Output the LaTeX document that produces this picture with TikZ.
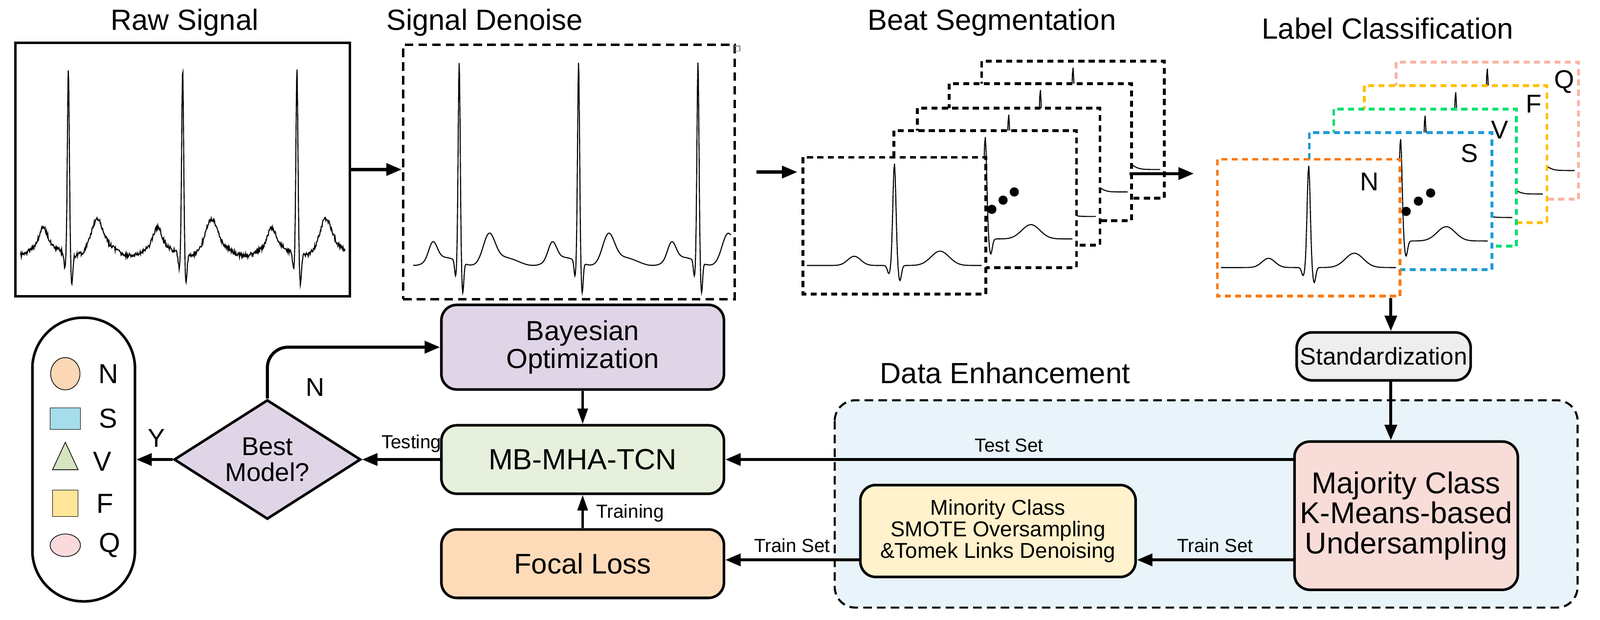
\documentclass[tikz,border=0pt]{standalone}
\usepackage{fontspec}
\setmainfont{Liberation Sans}
\usetikzlibrary{arrows.meta,shapes.geometric,positioning}

\definecolor{bayes}{HTML}{E0D5E7}
\definecolor{mbfill}{HTML}{E6F0DC}
\definecolor{focal}{HTML}{FDDBB9}
\definecolor{stdfill}{HTML}{EEEEEE}
\definecolor{majfill}{HTML}{F8DCD8}
\definecolor{minfill}{HTML}{FFF2CC}
\definecolor{enhfill}{HTML}{E8F4FA}
\definecolor{cN}{HTML}{FA7A12}
\definecolor{cS}{HTML}{1E9BD7}
\definecolor{cV}{HTML}{00E070}
\definecolor{cF}{HTML}{FFC000}
\definecolor{cQ}{HTML}{F8B5A5}
\definecolor{lgN}{HTML}{FAD7B5}
\definecolor{lgS}{HTML}{A6DDEA}
\definecolor{lgV}{HTML}{D6E4C0}
\definecolor{lgF}{HTML}{FFE699}
\definecolor{lgQ}{HTML}{FADADD}

\newcommand{\fs}[1]{\fontsize{#1}{#1}\selectfont}

\begin{document}
\begin{tikzpicture}[
        %one unit is one pixel of the reference, y goes down
        x=0.02087cm, y=-0.02087cm,
        declare function={
            ecg(\t)=0.09*exp(-min(((\t+0.22)/0.05)^2,9))
                   -0.08*exp(-min(((\t+0.03)/0.012)^2,9))
                   +exp(-min((\t/0.012)^2,9))
                   -0.15*exp(-min(((\t-0.03)/0.012)^2,9))
                   +0.14*exp(-min(((\t-0.25)/0.07)^2,9));
        },
        flow/.style={line width=1.8pt, -{Triangle[length=9pt,width=7pt]}},
        thin flow/.style={line width=1.2pt, -{Triangle[length=9pt,width=6pt]}},
        box/.style={draw, line width=1.5pt, rounded corners=9pt, align=center,
            inner sep=2pt},
        frame/.style={line width=1.6pt, dash pattern=on 3.5pt off 2.5pt, fill=white},
        signal/.style={line width=0.6pt},
        title/.style={font=\fs{17}},
        small label/.style={font=\fs{11}},
        every node/.style={color=black},
    ]
    \useasboundingbox (0,0) rectangle (1568,607);

    % titles
    \node[title] (rawtitle) at (181,22) {Raw Signal};
    \node[title] (dentitle) at (475,22) {Signal Denoise};
    \node[title] (segtitle) at (972,22) {Beat Segmentation};
    \node[title] (clstitle) at (1360,28) {Label Classification};

    % raw and denoised signal
    \node[draw, line width=1.5pt, minimum width=328*0.02087cm, minimum height=248*0.02087cm,
        inner sep=0] (raw) at (179,166) {};
    \node[draw, line width=1.5pt, dash pattern=on 5pt off 3pt, minimum width=325*0.02087cm,
        minimum height=249*0.02087cm, inner sep=0] (den) at (557.5,168.5) {};
    \draw[gray, line width=0.4pt] (720,45) rectangle (725,50);
    \begin{scope}[shift={(0,245)}, y={(0,-183)}]
        \draw[signal] plot[domain=20:338, samples=700]
            (\x, {ecg(mod(\x-67+56+224,112)/112-0.5)+0.012*rand
                +0.03*sin(6.43*(\x-30))});
    \end{scope}
    \begin{scope}[shift={(0,256)}, y={(0,-195)}]
        \draw[signal] plot[domain=405:716, samples=700]
            (\x, {ecg(mod(\x-450+58.5+234,117)/117-0.5)+0.02*sin(6.15*(\x-420))});
    \end{scope}

    % beat segmentation stack
    \foreach \fx/\fy in {962/60, 930/82, 899/106, 876/128, 787/154}{
        \path[frame, draw=black] (\fx,\fy) rectangle ++(179,134);
        \begin{scope}[shift={(\fx,\fy+106)}, x={(179,0)}, y={(0,-100)}]
            \draw[signal] plot[domain=0.02:0.98, samples=250] (\x, {ecg(\x-0.5)});
        \end{scope}
    }
    \foreach \dx/\dy in {972/205, 983/196, 994/188}
        \fill (\dx,\dy) circle (4.5);

    % label classification stack
    \foreach \fx/\fy/\fc/\lx/\ly/\lt in {1368/61/cQ/1533/80/Q, 1337/84/cF/1503/102/F,
            1307/107/cV/1470/127/V, 1283/130/cS/1440/150/S, 1193/156/cN/1342/178/N}{
        \path[frame, draw=\fc] (\fx,\fy) rectangle ++(179,134);
        \begin{scope}[shift={(\fx,\fy+106)}, x={(179,0)}, y={(0,-100)}]
            \draw[signal] plot[domain=0.02:0.98, samples=250] (\x, {ecg(\x-0.5)});
        \end{scope}
        \node[font=\fs{15}] at (\lx,\ly) {\lt};
    }
    \foreach \dx/\dy in {1378/207, 1390/197, 1402/189}
        \fill (\dx,\dy) circle (4.5);

    \coordinate (segout) at (1107,170);
    \coordinate (clsin) at (1170,170);
    \coordinate (clsout) at (1363,292);

    % data enhancement region
    \draw[line width=1.2pt, dash pattern=on 5pt off 3pt, rounded corners=12pt, fill=enhfill]
        (818,392) rectangle (1546,595);
    \node[font=\fs{17}] (enhtitle) at (985,365) {Data Enhancement};

    % process boxes
    \node[box, fill=stdfill, minimum width=3.38cm, minimum height=0.98cm, font=\fs{14}]
        (std) at (1356,349) {Standardization};
    \node[box, fill=majfill, minimum width=4.57cm, minimum height=3.03cm, font=\fs{17.5}]
        (maj) at (1378,505) {Majority Class\\K-Means-based\\Undersampling};
    \node[box, fill=minfill, minimum width=5.63cm, minimum height=1.88cm, font=\fs{12.5}]
        (mino) at (978,520) {Minority Class\\SMOTE Oversampling\\\&Tomek Links Denoising};
    \node[box, fill=mbfill, minimum width=5.78cm, minimum height=1.40cm, font=\fs{17}]
        (mb) at (571,450) {MB-MHA-TCN};
    \node[box, fill=bayes, minimum width=5.78cm, minimum height=1.73cm, font=\fs{16}]
        (bayes) at (571,340) {Bayesian\\Optimization};
    \node[box, fill=focal, minimum width=5.78cm, minimum height=1.40cm, font=\fs{16.5}]
        (focal) at (571,552) {Focal Loss};
    \node[draw, fill=bayes, line width=1.5pt, shape=diamond, aspect=1.56, inner sep=0pt,
        minimum width=3.82cm, minimum height=2.44cm, align=center, font=\fs{15}]
        (best) at (262,450) {Best\\Model?};

    % legend
    \node[draw, line width=1.5pt, rounded corners=1.04cm, minimum width=2.1cm,
        minimum height=5.8cm] (legend) at (82,450) {};
    \node[draw, fill=lgN, ellipse, minimum width=0.6cm, minimum height=0.66cm, inner sep=0]
        (lgn) at (64,366) {};
    \node[draw, fill=lgS, minimum width=0.62cm, minimum height=0.44cm, inner sep=0]
        (lgs) at (64,410) {};
    \node[draw, fill=lgV, isosceles triangle, shape border rotate=90, isosceles triangle apex angle=50,
        minimum width=0.52cm, minimum height=0.56cm, inner sep=0] (lgv) at (64,452) {};
    \node[draw, fill=lgF, minimum width=0.52cm, minimum height=0.54cm, inner sep=0]
        (lgf) at (64,493) {};
    \node[draw, fill=lgQ, ellipse, minimum width=0.62cm, minimum height=0.46cm, inner sep=0]
        (lgq) at (64,534) {};
    \foreach \nm/\lt in {lgn/N, lgs/S, lgv/V, lgf/F, lgq/Q}
        \node[font=\fs{16}, right=0.25cm of \nm] {\lt};

    % connectors
    \draw[flow] (raw.east) -- (raw.east -| den.west);
    \draw[flow] ([xshift=12pt]den.east) -- ++(40,0);
    \draw[flow] (segout) -- (clsin);
    \draw[flow] (clsout) -- (clsout |- std.north);
    \draw[flow] (clsout |- std.south) -- (clsout |- maj.north);
    \draw[flow] (maj.west |- mb) -- (mb.east)
        node[small label, pos=0.5, above] {Test Set};
    \draw[flow] (maj.west |- mino.south west) ++(0,-18) coordinate (trs)
        (trs) -- (trs -| mino.east) node[small label, pos=0.5, above] {Train Set};
    \draw[flow] (mino.west |- trs) -- (focal.east |- trs)
        node[small label, pos=0.5, above] {Train Set};
    \draw[thin flow] (bayes) -- (mb);
    \draw[thin flow] (focal) -- (mb) node[small label, pos=0.45, right=4pt] {Training};
    \draw[flow] (mb) -- (best.east) node[small label, pos=0.5, above, xshift=6pt] {Testing};
    \draw[flow] (best.west) -- (legend.east) node[font=\fs{15}, pos=0.45, above=3pt] {Y};
    \draw[flow, rounded corners=12pt] (best.north) -- (best.north |- bayes.west) -- (bayes.west)
        node[font=\fs{15}, pos=0.15, below right=14pt and 3pt] {N};
\end{tikzpicture}
\end{document}
